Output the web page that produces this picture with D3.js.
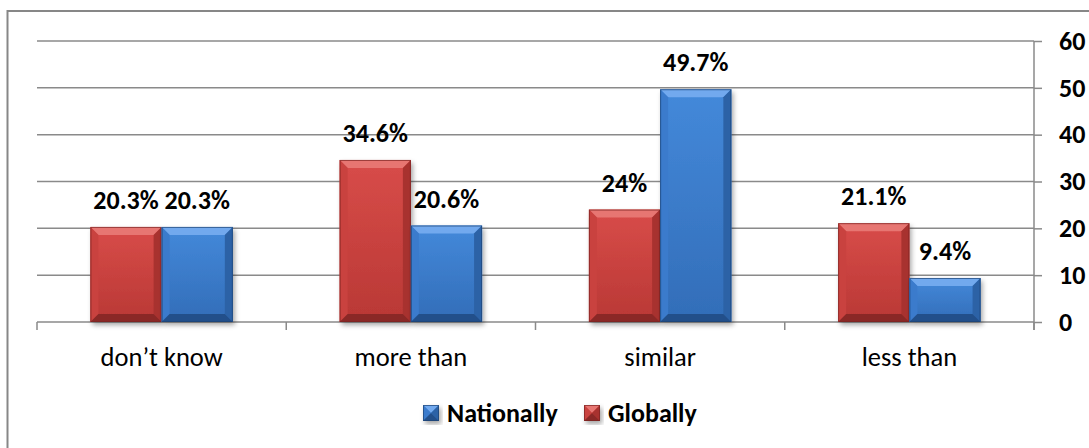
<!DOCTYPE html>
<html>
<head>
<meta charset="utf-8">
<script src="https://cdn.jsdelivr.net/npm/d3@7"></script>
<style>
  body { margin: 0; background: #fff; }
  svg text { font-family: Carlito, Calibri, Lato, sans-serif; fill: #000; }
</style>
</head>
<body>
<div class="bar_chart"></div>
<script>
const categories = ['don\u2019t know', 'more than', 'similar', 'less than']
const globally = [20.3, 34.6, 24, 21.1]
const nationally = [20.3, 20.6, 49.7, 9.4]
const yTicks = [0, 10, 20, 30, 40, 50, 60]
const seriesNames = ['Globally', 'Nationally']
const legendOrder = ['Nationally', 'Globally']

const width = 1089
const height = 448
const plotLeft = 37
const plotRight = 1034
const plotTop = 41
const plotBottom = 322

const palette = {
  Globally: { top: '#d84c49', bot: '#b93835', hi: '#e77672', l: '#c9423f', r: '#a8322f', lo: '#8a2826', line: '#7a2422' },
  Nationally: { top: '#4489da', bot: '#326db8', hi: '#72a9ee', l: '#3b7bcc', r: '#2c62a6', lo: '#224f8a', line: '#1c4373' }
}

const svg = d3.select('.bar_chart').append('svg')
  .attr('width', width)
  .attr('height', height)

const defs = svg.append('defs')
const shadow = defs.append('filter').attr('id', 'shadow')
  .attr('x', '-20%').attr('y', '-20%').attr('width', '140%').attr('height', '140%')
shadow.append('feDropShadow')
  .attr('dx', 2).attr('dy', 3).attr('stdDeviation', 2.5)
  .attr('flood-color', '#000').attr('flood-opacity', 0.35)

seriesNames.forEach((s) => {
  const g = defs.append('linearGradient').attr('id', 'grad-' + s)
    .attr('x1', 0).attr('y1', 0).attr('x2', 0).attr('y2', 1)
  g.append('stop').attr('offset', '0%').attr('stop-color', palette[s].top)
  g.append('stop').attr('offset', '100%').attr('stop-color', palette[s].bot)
})

// outer chart border (cropped at right and bottom)
svg.append('rect')
  .attr('x', 7.5).attr('y', 11)
  .attr('width', 1200).attr('height', 600)
  .attr('fill', 'none')
  .attr('stroke', '#878787')
  .attr('stroke-width', 2)

const x = d3.scaleBand().domain(categories).range([plotLeft, plotRight]).paddingInner(0).paddingOuter(0)
const barW = x.bandwidth() / 3.5
const xs = d3.scaleBand().domain(seriesNames)
  .range([barW * 0.75, x.bandwidth() - barW * 0.75])
const y = d3.scaleLinear().domain([0, 60]).range([plotBottom, plotTop])

// gridlines
svg.append('g').selectAll('line')
  .data(yTicks)
  .enter().append('line')
  .attr('x1', plotLeft).attr('x2', plotRight)
  .attr('y1', (d) => y(d)).attr('y2', (d) => y(d))
  .attr('stroke', '#8a8a8a')
  .attr('stroke-width', 1.5)

// right value axis
const yAxis = svg.append('g')
  .attr('transform', 'translate(' + plotRight + ',0)')
  .call(d3.axisRight(y).tickValues(yTicks).tickSize(8).tickPadding(17))
yAxis.select('.domain').attr('stroke', '#8a8a8a').attr('stroke-width', 1.5)
  .attr('d', 'M0,' + plotTop + 'V' + (plotBottom + 8))
yAxis.selectAll('.tick line').attr('stroke', '#8a8a8a').attr('stroke-width', 1.5)
yAxis.selectAll('.tick text')
  .style('font-family', 'Carlito, Calibri, Lato, sans-serif')
  .attr('font-size', 26).attr('font-weight', 'bold').attr('fill', '#000')

// category axis ticks at band edges
const edges = categories.map((c) => x(c)).concat([plotRight])
svg.append('g').selectAll('line')
  .data(edges)
  .enter().append('line')
  .attr('x1', (d) => d).attr('x2', (d) => d)
  .attr('y1', plotBottom).attr('y2', plotBottom + 8)
  .attr('stroke', '#8a8a8a')
  .attr('stroke-width', 1.5)

svg.append('g').selectAll('text')
  .data(categories)
  .enter().append('text')
  .attr('x', (d) => x(d) + x.bandwidth() / 2)
  .attr('y', 366)
  .attr('text-anchor', 'middle')
  .attr('font-size', 26.5)
  .text((d) => d)

// bevelled bar
function bevelBar (g, bx, by, bw, bh, s) {
  const p = palette[s]
  const b = Math.min(8, bh / 2, bw / 2)
  const grp = g.append('g')
  grp.append('rect')
    .attr('x', bx).attr('y', by).attr('width', bw).attr('height', bh)
    .attr('fill', 'url(#grad-' + s + ')')
    .attr('filter', 'url(#shadow)')
  const poly = (pts, fill) => grp.append('path')
    .attr('d', 'M' + pts.map((q) => q.join(',')).join('L') + 'Z')
    .attr('fill', fill)
  const x0 = bx
  const x1 = bx + bw
  const y0 = by
  const y1 = by + bh
  poly([[x0, y0], [x1, y0], [x1 - b, y0 + b], [x0 + b, y0 + b]], p.hi)
  poly([[x0, y0], [x0 + b, y0 + b], [x0 + b, y1 - b], [x0, y1]], p.l)
  poly([[x1, y0], [x1, y1], [x1 - b, y1 - b], [x1 - b, y0 + b]], p.r)
  poly([[x0, y1], [x0 + b, y1 - b], [x1 - b, y1 - b], [x1, y1]], p.lo)
  grp.append('rect')
    .attr('x', bx + 0.5).attr('y', by + 0.5).attr('width', bw - 1).attr('height', Math.max(0, bh - 1))
    .attr('fill', 'none').attr('stroke', p.line).attr('stroke-opacity', 0.7)
}

const rows = categories.map((c, i) => ({ cat: c, Globally: globally[i], Nationally: nationally[i] }))
const bars = svg.append('g')
const labels = svg.append('g')
rows.forEach((r) => {
  seriesNames.forEach((s) => {
    const bx = x(r.cat) + xs(s)
    const by = y(r[s])
    bevelBar(bars, bx, by, xs.bandwidth(), y(0) - by, s)
    labels.append('text')
      .attr('x', bx + xs.bandwidth() / 2)
      .attr('y', by - 18)
      .attr('text-anchor', 'middle')
      .attr('font-size', 26)
      .attr('font-weight', 'bold')
      .text(r[s] + '%')
  })
})

// legend
const legendX = [423, 584]
const legend = svg.append('g')
legendOrder.forEach((s, i) => {
  bevelBar(legend, legendX[i], 405, 16, 16, s)
  legend.append('text')
    .attr('x', legendX[i] + 24)
    .attr('y', 422)
    .attr('font-size', 26)
    .attr('font-weight', 'bold')
    .text(s)
})
</script>
</body>
</html>
